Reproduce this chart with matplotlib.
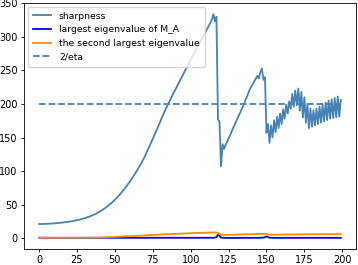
import matplotlib
matplotlib.use('Agg')
import matplotlib.pyplot as plt
import numpy as np

# iterations 0..199
steps = list(range(200))

# sharpness
sharpness = [
    21.0, 21.0, 21.1, 21.1, 21.2, 21.3, 21.4, 21.5, 21.6, 21.8,
    22.0, 22.2, 22.4, 22.6, 22.8, 23.0, 23.3, 23.6, 23.9, 24.2,
    24.5, 24.9, 25.3, 25.7, 26.2, 26.7, 27.2, 27.8, 28.4, 29.0,
    29.7, 30.4, 31.2, 32.0, 32.9, 33.8, 34.8, 35.9, 37.0, 38.2,
    39.5, 40.9, 42.4, 43.9, 45.5, 47.2, 49.0, 50.9, 52.9, 55.0,
    57.2, 59.5, 61.9, 64.4, 67.0, 69.7, 72.5, 75.4, 78.4, 81.5,
    84.7, 88.0, 91.5, 95.0, 98.6, 102.2, 106.0, 110.0, 114.1, 118.4,
    123.0, 128.0, 133.0, 138.0, 143.0, 148.0, 153.0, 158.0, 163.3, 168.8,
    174.2, 179.5, 184.7, 189.7, 194.6, 199.3, 204.0, 208.6, 213.1, 217.6,
    222.0, 226.4, 230.8, 235.1, 239.5, 244.0, 248.6, 253.0, 257.4, 261.7,
    266.0, 270.3, 274.6, 278.8, 283.0, 287.2, 291.4, 295.6, 299.8, 304.0,
    308.2, 312.4, 316.6, 321.0, 326.0, 334.0, 323.0, 330.0, 178.0, 173.0,
    107.0, 140.0, 133.0, 139.0, 143.0, 149.0, 153.0, 159.0, 164.0, 169.0,
    174.0, 179.0, 184.0, 189.0, 194.0, 199.0, 205.0, 210.0, 216.0, 222.0,
    226.0, 230.0, 234.0, 238.0, 242.0, 238.0, 248.0, 253.0, 236.0, 240.0,
    157.0, 170.0, 142.0, 168.0, 150.0, 176.0, 158.0, 181.0, 164.0, 186.0,
    170.0, 192.0, 178.0, 199.0, 186.0, 204.0, 193.0, 215.0, 196.0, 220.0,
    198.0, 223.0, 190.0, 218.0, 180.0, 210.0, 172.0, 200.0, 164.0, 193.0,
    166.0, 191.0, 168.0, 193.0, 170.0, 196.0, 172.0, 199.0, 174.0, 202.0,
    176.0, 205.0, 178.0, 207.0, 179.0, 209.0, 180.0, 211.0, 181.0, 206.0,
]

# largest eigenvalue of M_A
eig1 = [
    0.6, 0.6, 0.6, 0.5, 0.5, 0.5, 0.5, 0.5, 0.4, 0.4,
    0.4, 0.4, 0.4, 0.4, 0.4, 0.4, 0.4, 0.4, 0.4, 0.4,
    0.4, 0.4, 0.4, 0.4, 0.4, 0.4, 0.4, 0.4, 0.4, 0.4,
    0.3, 0.3, 0.3, 0.3, 0.3, 0.3, 0.3, 0.3, 0.3, 0.3,
    0.3, 0.3, 0.3, 0.3, 0.3, 0.3, 0.3, 0.3, 0.3, 0.3,
    0.3, 0.3, 0.3, 0.3, 0.3, 0.3, 0.3, 0.3, 0.3, 0.3,
    0.3, 0.3, 0.3, 0.3, 0.3, 0.3, 0.3, 0.3, 0.3, 0.3,
    0.3, 0.3, 0.3, 0.3, 0.3, 0.3, 0.3, 0.3, 0.3, 0.3,
    0.3, 0.3, 0.3, 0.3, 0.3, 0.3, 0.3, 0.3, 0.3, 0.3,
    0.3, 0.3, 0.3, 0.3, 0.3, 0.3, 0.3, 0.3, 0.3, 0.3,
    0.3, 0.3, 0.3, 0.3, 0.3, 0.3, 0.3, 0.3, 0.3, 0.3,
    0.3, 0.3, 0.3, 0.3, 0.4, 0.5, 0.8, 1.5, 5.0, 3.5,
    1.0, 0.5, 0.4, 0.3, 0.3, 0.3, 0.3, 0.3, 0.3, 0.3,
    0.3, 0.3, 0.3, 0.3, 0.3, 0.3, 0.3, 0.3, 0.3, 0.3,
    0.3, 0.3, 0.3, 0.3, 0.4, 0.4, 0.5, 0.6, 0.8, 1.2,
    2.5, 1.5, 0.6, 0.4, 0.5, 0.3, 0.5, 0.3, 0.5, 0.3,
    0.5, 0.3, 0.5, 0.3, 0.5, 0.3, 0.5, 0.3, 0.5, 0.3,
    0.5, 0.3, 0.5, 0.3, 0.5, 0.3, 0.5, 0.3, 0.5, 0.3,
    0.5, 0.3, 0.5, 0.3, 0.5, 0.3, 0.5, 0.3, 0.5, 0.3,
    0.5, 0.3, 0.5, 0.3, 0.5, 0.3, 0.5, 0.3, 0.5, 0.3,
]

# second largest eigenvalue
eig2 = [
    0.5, 0.5, 0.5, 0.5, 0.5, 0.5, 0.5, 0.5, 0.5, 0.5,
    0.5, 0.5, 0.5, 0.5, 0.5, 0.5, 0.5, 0.5, 0.5, 0.5,
    0.5, 0.5, 0.5, 0.5, 0.5, 0.6, 0.6, 0.6, 0.6, 0.6,
    0.6, 0.6, 0.7, 0.7, 0.7, 0.7, 0.7, 0.8, 0.8, 0.8,
    0.8, 0.9, 1.0, 1.1, 1.2, 1.3, 1.4, 1.5, 1.6, 1.7,
    1.8, 1.9, 2.0, 2.1, 2.2, 2.3, 2.4, 2.5, 2.6, 2.7,
    2.8, 2.9, 3.0, 3.2, 3.3, 3.4, 3.6, 3.7, 3.8, 4.0,
    4.1, 4.2, 4.4, 4.5, 4.6, 4.8, 4.9, 5.0, 5.2, 5.3,
    5.4, 5.5, 5.6, 5.7, 5.8, 5.9, 6.0, 6.1, 6.2, 6.3,
    6.4, 6.5, 6.6, 6.7, 6.8, 6.9, 7.0, 7.1, 7.2, 7.3,
    7.4, 7.5, 7.6, 7.7, 7.8, 7.8, 7.9, 7.9, 8.0, 8.0,
    8.1, 8.1, 8.2, 8.2, 8.3, 8.3, 8.4, 8.4, 7.8, 6.5,
    5.0, 4.6, 4.7, 4.8, 4.8, 4.9, 5.0, 5.0, 5.1, 5.2,
    5.2, 5.3, 5.4, 5.4, 5.5, 5.6, 5.6, 5.7, 5.8, 5.8,
    5.9, 6.0, 6.0, 6.1, 6.2, 6.2, 6.3, 6.4, 6.4, 6.5,
    6.2, 5.4, 5.0, 5.0, 5.1, 5.1, 5.2, 5.2, 5.2, 5.3,
    5.3, 5.3, 5.4, 5.4, 5.4, 5.5, 5.5, 5.5, 5.5, 5.6,
    5.6, 5.6, 5.6, 5.7, 5.7, 5.7, 5.7, 5.8, 5.8, 5.8,
    5.8, 5.8, 5.9, 5.9, 5.9, 5.9, 5.9, 6.0, 6.0, 6.0,
    6.0, 6.0, 6.0, 6.0, 6.0, 6.0, 6.0, 6.0, 6.0, 6.0,
]

eta_line = 200.0

fig = plt.figure(figsize=(3.58, 2.65), dpi=100)
ax = fig.add_axes([0.067, 0.06, 0.927, 0.929])

ax.plot(steps, sharpness, color='steelblue', lw=1.3, label='sharpness')
ax.plot(steps, eig1, color='blue', lw=1.3, label='largest eigenvalue of M_A')
ax.plot(steps, eig2, color='darkorange', lw=1.3, label='the second largest eigenvalue')
ax.plot([steps[0], steps[-1]], [eta_line, eta_line], color='steelblue', lw=1.3,
        ls='--', label='2/eta')

ax.set_xticks([0, 25, 50, 75, 100, 125, 150, 175, 200])
ax.set_yticks([0, 50, 100, 150, 200, 250, 300, 350])
ax.tick_params(labelsize=7, length=2.5, width=0.6, pad=2)
for s in ax.spines.values():
    s.set_linewidth(0.6)

ax.legend(loc='upper left', fontsize=6.7, handlelength=2.0, borderaxespad=0.4,
          borderpad=0.55, labelspacing=0.5)

fig.savefig('out.png', dpi=100)
